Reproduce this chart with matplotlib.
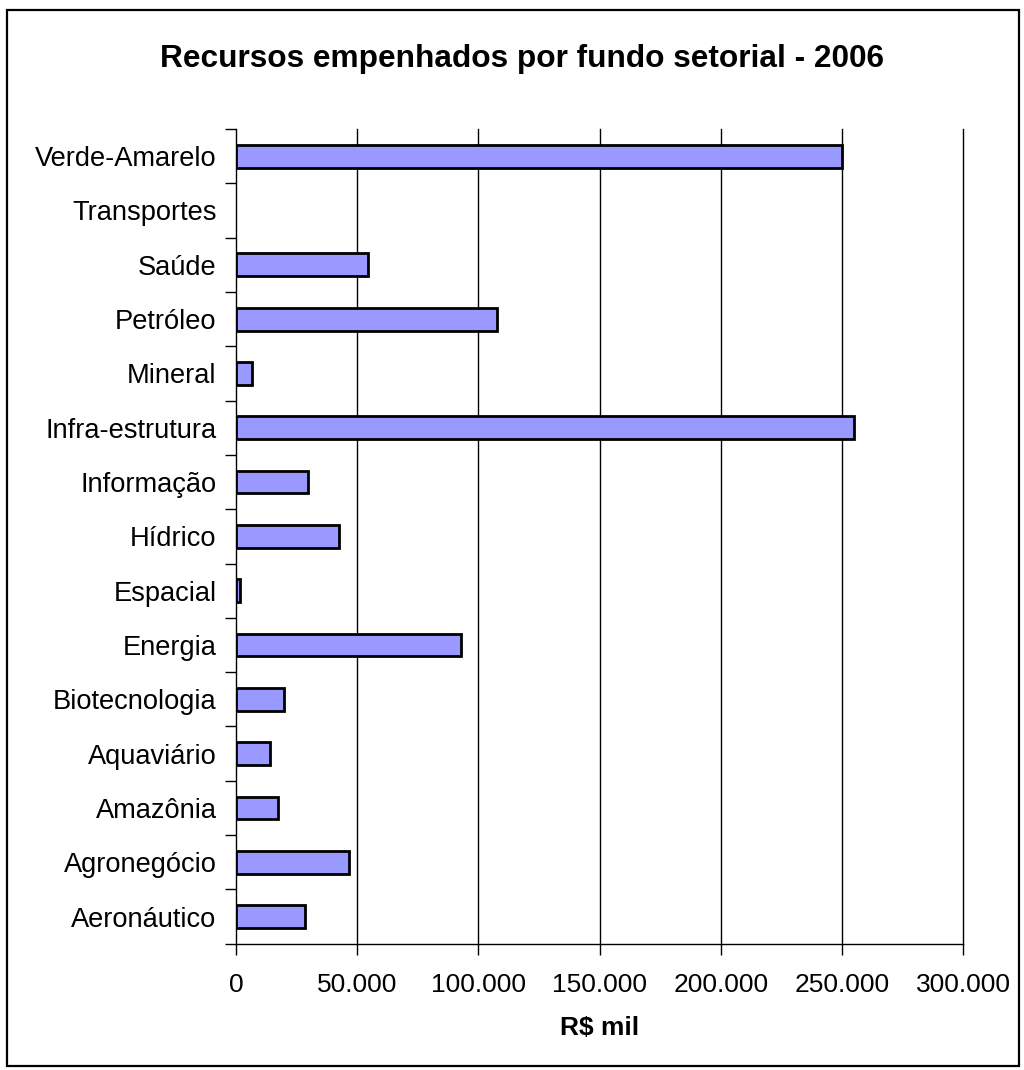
import matplotlib
matplotlib.use("Agg")
import matplotlib.pyplot as plt
from matplotlib.patches import Rectangle
from matplotlib.ticker import FuncFormatter, FixedLocator
import numpy as np

plt.rcParams['font.family'] = ['Liberation Sans', 'DejaVu Sans']

categories = ["Aeronáutico", "Agronegócio", "Amazônia", "Aquaviário", "Biotecnologia",
              "Energia", "Espacial", "Hídrico", "Informação", "Infra-estrutura",
              "Mineral", "Petróleo", "Saúde", "Transportes", "Verde-Amarelo"]
values = [28300, 46600, 17500, 14200, 19700,
          92700, 1500, 42400, 29700, 254800,
          6400, 107600, 54500, 0, 250000]
xticks = [0, 50000, 100000, 150000, 200000, 250000, 300000]

title = "Recursos empenhados por fundo setorial - 2006"
xlabel = "R$ mil"

fig = plt.figure(figsize=(10.24, 10.70), dpi=100)
ax = fig.add_axes([236/1024, 1 - 943.7/1070, (963.3-236)/1024, (943.7-129)/1070])

y = np.arange(len(categories))
bars = ax.barh(y, values, height=0.42, color="#9999FF", edgecolor="black", linewidth=2.0, zorder=3)
for b, v in zip(bars, values):
    if v == 0:
        b.set_linewidth(0)

ax.set_xlim(0, 300000)
ax.set_ylim(-0.5, len(categories) - 0.5)

ax.set_xticks(xticks)
ax.xaxis.set_major_formatter(FuncFormatter(lambda v, p: f"{int(v):,}".replace(",", ".")))
ax.tick_params(axis='x', direction='out', length=8, width=1, labelsize=19, pad=13, colors='black')

ax.set_yticks(y)
ax.set_yticklabels(categories)
ax.tick_params(axis='y', which='major', length=0, labelsize=19.6, pad=14)
ax.yaxis.set_minor_locator(FixedLocator(np.arange(-0.5, len(categories), 1.0)))
ax.tick_params(axis='y', which='minor', direction='out', length=8, width=1)

for xv in xticks[1:]:
    ax.axvline(xv, color='black', linewidth=1.0, zorder=1, clip_on=False)

ax.spines['top'].set_visible(False)
ax.spines['right'].set_visible(False)
ax.spines['left'].set_linewidth(1)
ax.spines['bottom'].set_linewidth(1)

ax.set_xlabel(xlabel, fontsize=19, fontweight='bold', labelpad=14)

fig.text(522/1024, 1 - 59/1070, title, ha='center', va='center', fontsize=22.8, fontweight='bold')

fig.patches.append(Rectangle((7/1024, 1 - 1066/1070), (1019-7)/1024, (1066-10)/1070,
                             transform=fig.transFigure, fill=False, edgecolor='black', linewidth=1.6))

fig.savefig("out.png", dpi=100)
